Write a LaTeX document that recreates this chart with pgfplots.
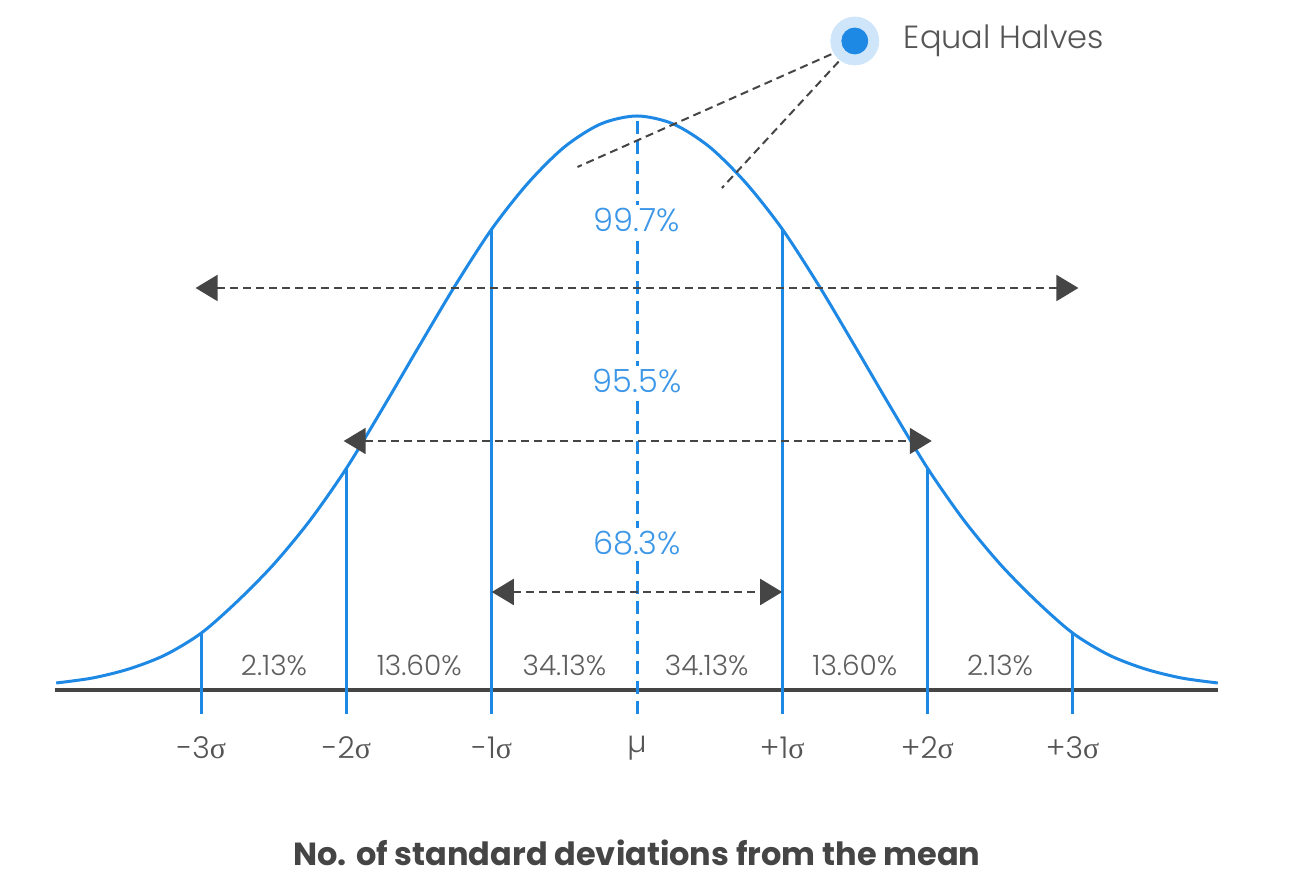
\documentclass[border=0pt]{standalone}
\usepackage{pgfplots}
\pgfplotsset{compat=1.18}
\usepackage{pgfplotstable}
\usetikzlibrary{arrows.meta}
\usepackage{fontspec}
\setmainfont{Poppins}
\newfontfamily\lightfont{Poppins}[UprightFont=* Light]
\newfontfamily\sigfont{Liberation Serif}
\definecolor{cblue}{HTML}{1E88E5}
\definecolor{tblue}{HTML}{3D97E8}
\definecolor{tgray}{HTML}{555555}
\definecolor{pgray}{HTML}{5E5E5E}
\definecolor{agray}{HTML}{454545}
\definecolor{halo}{HTML}{CFE5FA}

\pgfplotstableread{
x h
-4 7
-3.75 12
-3.5 21
-3.25 35
-3 57
-2.75 89
-2.5 126
-2.25 170
-2 222
-1.75 282
-1.5 344
-1.25 405
-1 461
-0.75 507
-0.5 543
-0.25 566
0 574
0.25 566
0.5 543
0.75 507
1 461
1.25 405
1.5 344
1.75 282
2 222
2.25 170
2.5 126
2.75 89
3 57
3.25 35
3.5 21
3.75 12
4 7
}\curve

\tikzset{pct/.style={text=pgray, font=\lightfont\fontsize{14}{14}\selectfont},
  tck/.style={text=tgray, font=\lightfont\fontsize{15}{15}\selectfont},
  bl/.style={fill=white, text=tblue, inner sep=1.5pt, font=\lightfont\fontsize{16}{16}\selectfont},
  arr/.style={agray, line width=1pt, dash pattern=on 4pt off 2.5pt, {Triangle[length=11pt,width=13pt]}-{Triangle[length=11pt,width=13pt]}}}

\begin{document}
\begin{tikzpicture}
\useasboundingbox (-318.5pt,-93pt) rectangle (326.5pt,345pt);
\begin{axis}[
  anchor=origin, at={(0pt,0pt)},
  x=72.6pt, y=0.5pt,
  xmin=-4, xmax=4, ymin=-30, ymax=660,
  hide axis, clip=false,
]
% baseline
\addplot[agray, line width=1.6pt] coordinates {(-4.01,0) (4.0,0)};
% curve
\addplot[cblue, line width=1.5pt, smooth] table[x=x,y=h] {\curve};
% sigma lines
\addplot[cblue, line width=1.5pt] coordinates {(-3,-24) (-3,57)};
\addplot[cblue, line width=1.5pt] coordinates {(-2,-24) (-2,222)};
\addplot[cblue, line width=1.5pt] coordinates {(-1,-24) (-1,461)};
\addplot[cblue, line width=1.5pt] coordinates {(1,-24) (1,461)};
\addplot[cblue, line width=1.5pt] coordinates {(2,-24) (2,222)};
\addplot[cblue, line width=1.5pt] coordinates {(3,-24) (3,57)};
% center dashed
\addplot[cblue, line width=1.5pt, dash pattern=on 6.5pt off 3.5pt] coordinates {(0,-24) (0,574)};
% equal halves leader lines
\addplot[agray, line width=1pt, dash pattern=on 4pt off 2.5pt] coordinates {(1.42,641) (-0.41,523)};
\addplot[agray, line width=1pt, dash pattern=on 4pt off 2.5pt] coordinates {(1.45,638) (0.585,502)};
% marker
\addplot[only marks, mark=*, color=halo, mark size=12pt] coordinates {(1.5,649)};
\addplot[only marks, mark=*, color=cblue, mark size=6.5pt] coordinates {(1.5,649)};
% arrows
\draw[arr] (axis cs:-3.04,402) -- (axis cs:3.04,402);
\draw[arr] (axis cs:-2.02,249) -- (axis cs:2.03,249);
\draw[arr] (axis cs:-1.0,98) -- (axis cs:1.0,98);
% blue labels
\node[bl] at (axis cs:0,470) {99.7\%};
\node[bl] at (axis cs:0,309) {95.5\%};
\node[bl] at (axis cs:0,147) {68.3\%};
% region percentages
\node[pct] at (axis cs:-2.5,25) {2.13\%};
\node[pct] at (axis cs:-1.5,25) {13.60\%};
\node[pct] at (axis cs:-0.5,25) {34.13\%};
\node[pct] at (axis cs:0.48,25) {34.13\%};
\node[pct] at (axis cs:1.5,25) {13.60\%};
\node[pct] at (axis cs:2.5,25) {2.13\%};
% tick labels
\node[tck] at (axis cs:-3,-58) {-3{\sigfont σ}};
\node[tck] at (axis cs:-2,-58) {-2{\sigfont σ}};
\node[tck] at (axis cs:-1,-58) {-1{\sigfont σ}};
\node[tck] at (axis cs:0,-58) {µ};
\node[tck] at (axis cs:1,-58) {+1{\sigfont σ}};
\node[tck] at (axis cs:2,-58) {+2{\sigfont σ}};
\node[tck] at (axis cs:3,-58) {+3{\sigfont σ}};
% annotation label
\node[anchor=west, text=tgray, font=\lightfont\fontsize{16}{16}\selectfont] at (axis cs:1.79,649) {Equal Halves};
% x label
\node[text=agray, font=\bfseries\fontsize{16}{16}\selectfont] at (axis cs:0,-163) {No. of standard deviations from the mean};
\end{axis}
\end{tikzpicture}
\end{document}
